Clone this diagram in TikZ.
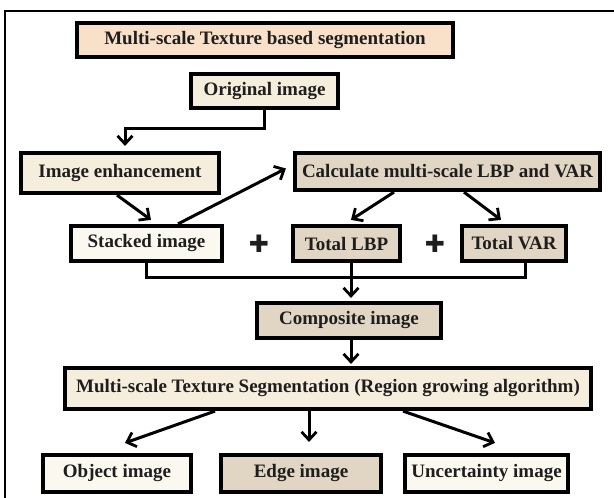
\documentclass[tikz,border=0pt]{standalone}
\usepackage{fontspec}
\setmainfont{Liberation Serif}
\newfontfamily\symfont{DejaVu Sans}
\usetikzlibrary{arrows.meta,calc}
\definecolor{peach}{HTML}{F9E0C8}
\definecolor{cream}{HTML}{F6EEDC}
\definecolor{pale}{HTML}{FBF8F0}
\definecolor{tex}{HTML}{E1D6C3}
\definecolor{ink}{HTML}{1E1E1E}
\tikzset{
  box/.style={draw=black, line width=4.2pt, inner sep=0pt, minimum height=35pt,
    font=\fontsize{19}{21}\selectfont\bfseries, text=ink},
  conn/.style={line width=3pt, black},
  arr/.style={conn, -{Straight Barb[length=8pt,width=15pt,line width=2.8pt]}},
  plus/.style={font=\symfont\fontsize{24}{26}\selectfont, text=ink, inner sep=0pt}
}
\begin{document}
\begin{tikzpicture}[x=1pt,y=-1pt]
\useasboundingbox (0,0) rectangle (614,498);
\fill[white] (0,0) rectangle (614,498);
% outer frame (cropped)
\draw[line width=2.2pt] (5,498) -- (5,11) -- (614,11);

\node[box, fill=peach, minimum width=376pt, minimum height=34pt] (title) at (265,40) {Multi-scale Texture based segmentation};
\node[box, fill=cream, minimum width=147pt, minimum height=34pt] (orig) at (264.5,91) {Original image};
\node[box, fill=cream, minimum width=198pt, minimum height=40pt] (enh) at (120,173) {Image enhancement};
\node[box, fill=tex, minimum width=305pt, minimum height=37pt] (calc) at (447.5,171.5) {Calculate multi-scale LBP and VAR};
\node[box, fill=pale, minimum width=151pt] (stk) at (146.5,243.5) {Stacked image};
\node[box, fill=tex, minimum width=107pt] (lbp) at (346.5,243.5) {Total LBP};
\node[box, fill=tex, minimum width=104pt] (var) at (514,243.5) {Total VAR};
\node[plus] (p1) at (259,244) {✚};
\node[plus] (p2) at (435,244) {✚};
\node[box, fill=tex, minimum width=184pt] (comp) at (349,320.5) {Composite image};
\node[box, fill=cream, minimum width=526pt, minimum height=41pt] (seg) at (328,388.5) {Multi-scale Texture Segmentation (Region growing algorithm)};
\node[box, fill=pale, minimum width=148pt, minimum height=37pt] (obj) at (117,473.5) {Object image};
\node[box, fill=tex, minimum width=160pt, minimum height=37pt] (edge) at (301,473.5) {Edge image};
\node[box, fill=pale, minimum width=163pt, minimum height=37pt] (unc) at (486.5,473.5) {Uncertainty image};

% original -> enhancement
\coordinate (e1) at (125,128);
\draw[arr] (orig.south) |- (e1) -- ([yshift=5pt]enh.north -| e1);
% enhancement -> stacked
\draw[arr] ([xshift=-3pt]enh.south) -- ([xshift=4.5pt,yshift=4pt]stk.north);
% stacked -> calc
\draw[arr] ([xshift=31.5pt]stk.north) -- ([xshift=-7pt,yshift=3pt]calc.west);
% calc -> totals
\draw[arr] ([xshift=-53.5pt]calc.south) -- ([xshift=4.5pt,yshift=4pt]lbp.north);
\draw[arr] ([xshift=16.5pt]calc.south) -- ([xshift=-13pt,yshift=4pt]var.north);
% bus
\coordinate (busL) at (146.5,277);
\coordinate (busM) at (351,277);
\coordinate (busR) at (525,277);
\draw[conn] (stk.south) -- (busL) -- (busR) -- (busR |- var.south);
\draw[conn] (busM |- lbp.south) -- (busM);
\draw[arr] (busM) -- ([xshift=2pt,yshift=3pt]comp.north);
% composite -> segmentation
\draw[arr] ([xshift=2pt]comp.south) -- ([xshift=23pt,yshift=2pt]seg.north);
% segmentation -> outputs
\draw[arr] ([xshift=-113pt]seg.south) -- ([xshift=8pt,yshift=10pt]obj.north);
\draw[arr] ([xshift=-19pt]seg.south) -- ([xshift=8pt,yshift=11pt]edge.north);
\draw[arr] ([xshift=75pt]seg.south) -- ([xshift=8.5pt,yshift=10pt]unc.north);
\end{tikzpicture}
\end{document}
